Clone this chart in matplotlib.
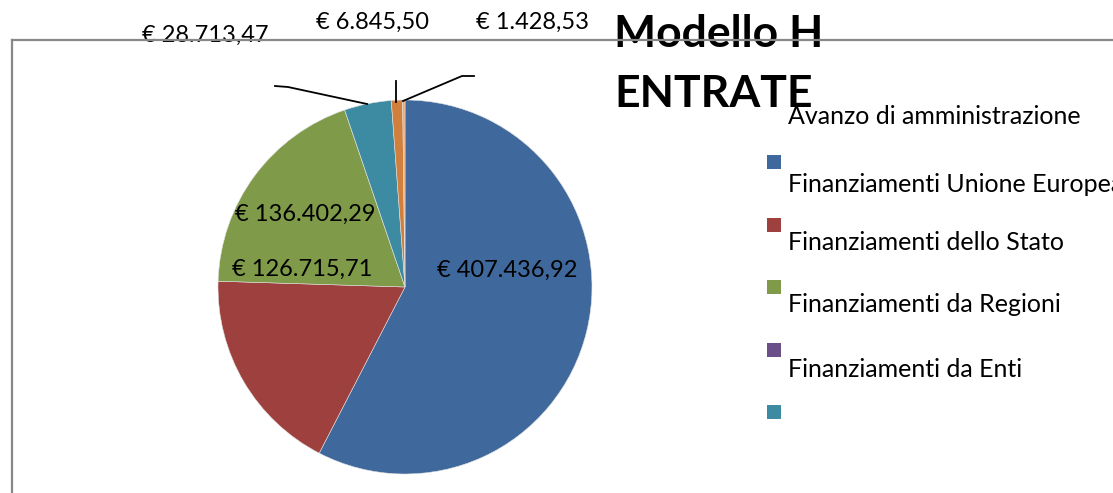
import matplotlib.pyplot as plt
from matplotlib.patches import Rectangle

plt.rcParams['font.family'] = ['Lato', 'DejaVu Sans']

# Slice values (clockwise from 12 o'clock) and colours
values = [407436.92, 126715.71, 136402.29, 0.0, 28713.47, 6845.50, 1428.53]
colors = ['#3F699C', '#9E413E', '#7F9A48', '#6A4F89', '#3C8BA3', '#D07F3C', '#F3A66F']

legend_labels = ['Avanzo di amministrazione', 'Finanziamenti Unione Europea',
                 'Finanziamenti dello Stato', 'Finanziamenti da Regioni',
                 'Finanziamenti da Enti']
legend_colors = colors[:5]


def euro(v):
    s = f"{v:,.2f}".replace(',', 'X').replace('.', ',').replace('X', '.')
    return '€ ' + s


W, H = 1113, 493
fig = plt.figure(figsize=(W / 100, H / 100), dpi=100)

# pie in an unflipped axes underneath
pax = fig.add_axes([0, 0, 1, 1])
pax.set_xlim(0, W)
pax.set_ylim(0, H)
pax.set_aspect('equal')
pax.axis('off')
pax.pie(values, colors=colors, startangle=90, counterclock=False,
        center=(405, H - 287), radius=187,
        wedgeprops=dict(edgecolor='#e0e0e0', linewidth=0.4))
pax.set_xlim(0, W)
pax.set_ylim(0, H)

# overlay axes in pixel coordinates (y down) for texts and lines
ax = fig.add_axes([0, 0, 1, 1])
ax.set_zorder(2)
ax.set_xlim(0, W)
ax.set_ylim(H, 0)
ax.axis('off')

# frame lines
ax.plot([12, W], [40, 40], color='#888888', lw=1.6, zorder=5)
ax.plot([12, 12], [40, H], color='#888888', lw=1.6, zorder=5)

fs = 17
# value labels
ax.text(507, 277, euro(values[0]), fontsize=fs, ha='center', va='baseline', zorder=6)
ax.text(302, 276, euro(values[1]), fontsize=fs, ha='center', va='baseline', zorder=6)
ax.text(305, 221, euro(values[2]), fontsize=fs, ha='center', va='baseline', zorder=6)
ax.text(205, 42, euro(values[4]), fontsize=fs, ha='center', va='baseline', zorder=4)
ax.text(373, 29, euro(values[5]), fontsize=fs, ha='center', va='baseline', zorder=6)
ax.text(532, 29, euro(values[6]), fontsize=fs, ha='center', va='baseline', zorder=6)

# leader lines
ax.plot([275, 288, 367], [86, 87, 104], color='black', lw=1.3, zorder=6)
ax.plot([396, 396], [81, 102], color='black', lw=1.3, zorder=6)
ax.plot([403, 462, 474], [101, 76, 76], color='black', lw=1.3, zorder=6)

# title
ax.text(614, 47, 'Modello H', fontsize=32, fontweight='bold', ha='left', va='baseline', zorder=4)
ax.text(614, 107, 'ENTRATE', fontsize=32, fontweight='bold', ha='left', va='baseline', zorder=4)

# legend (markers and texts offset as in the reference)
text_y = [124, 192, 250, 312, 377]
for lab, y in zip(legend_labels, text_y):
    ax.text(788, y, lab, fontsize=18, ha='left', va='baseline', zorder=6)
mark_y = [162, 225, 287, 350, 412]
for c, y in zip(legend_colors, mark_y):
    ax.add_patch(Rectangle((767, y - 7), 14, 14, facecolor=c, edgecolor='none', zorder=6))

fig.savefig('out.png', dpi=100)
